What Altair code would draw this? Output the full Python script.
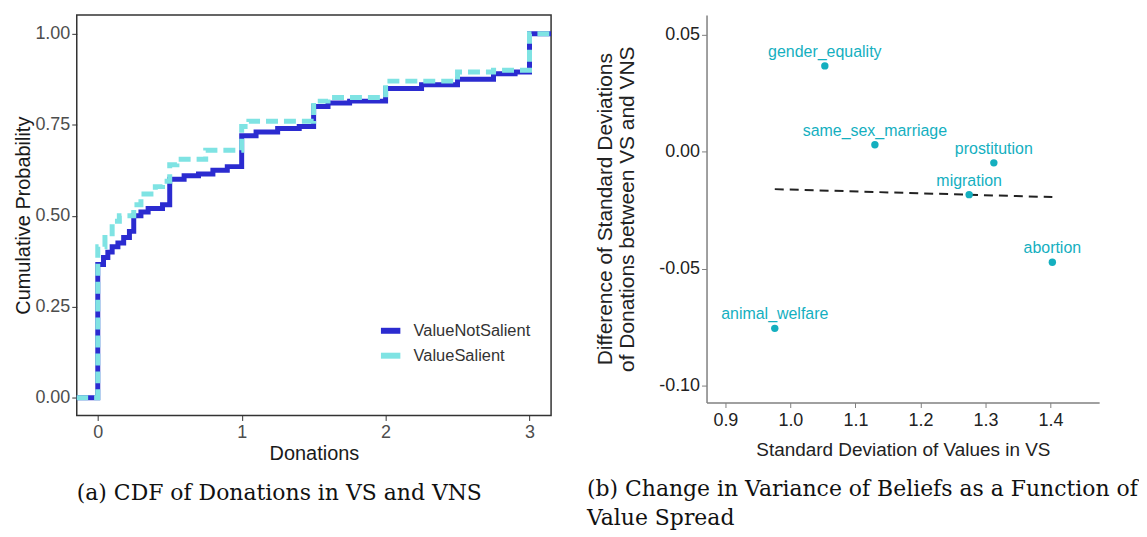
import altair as alt
import pandas as pd

# ---------- Panel (a): ECDF of donations ----------
group_names = ["ValueNotSalient", "ValueSalient"]
vns_donation = [-0.15, 0, 0.04, 0.07, 0.10, 0.14, 0.18, 0.22, 0.25, 0.30, 0.35, 0.45, 0.5, 0.6, 0.7,
                0.8, 0.9, 1.0, 1.1, 1.25, 1.4, 1.5, 1.6, 1.75, 2.0, 2.25, 2.5, 2.75, 2.9, 3.0, 3.15]
vns_cdf = [0, 0.366, 0.385, 0.40, 0.415, 0.425, 0.44, 0.457, 0.50, 0.51, 0.52, 0.53, 0.60, 0.61, 0.615,
           0.625, 0.635, 0.72, 0.73, 0.74, 0.745, 0.80, 0.81, 0.815, 0.85, 0.86, 0.875, 0.89, 0.895, 1.0, 1.0]
vs_donation = [-0.15, 0, 0.05, 0.10, 0.15, 0.25, 0.30, 0.40, 0.45, 0.5, 0.55, 0.75, 1.0, 1.05, 1.5, 1.6,
               2.0, 2.5, 2.75, 3.0, 3.15]
vs_cdf = [0, 0.415, 0.44, 0.485, 0.50, 0.53, 0.56, 0.58, 0.595, 0.64, 0.655, 0.68, 0.745, 0.76, 0.815, 0.825,
          0.87, 0.895, 0.90, 1.0, 1.0]
x_ticks_a = [0, 1, 2, 3]
y_ticks_a = [0, 0.25, 0.5, 0.75, 1.0]

# ---------- Panel (b): scatter ----------
topics = ["gender_equality", "same_sex_marriage", "prostitution", "migration", "abortion", "animal_welfare"]
sd_values = [1.053, 1.130, 1.313, 1.275, 1.403, 0.976]
sd_diff = [0.0366, 0.0029, -0.0048, -0.0184, -0.0473, -0.0755]
x_ticks_b = [0.9, 1.0, 1.1, 1.2, 1.3, 1.4]
y_ticks_b = [-0.10, -0.05, 0.0, 0.05]

ecdf = pd.DataFrame({
    "donation": vns_donation + vs_donation,
    "cdf": vns_cdf + vs_cdf,
    "group": [group_names[0]] * len(vns_donation) + [group_names[1]] * len(vs_donation),
})
scatter = pd.DataFrame({"topic": topics, "sd": sd_values, "diff": sd_diff})

FONT = "Liberation Sans"
TEAL = "#14AFBF"

x_a = alt.X("donation:Q", title="Donations",
            scale=alt.Scale(domain=[-0.146, 3.15], nice=False, zero=False),
            axis=alt.Axis(values=x_ticks_a, format="d", grid=False, domain=False, tickSize=5,
                          tickColor="#333333", labelColor="#4D4D4D", labelFontSize=18,
                          labelPadding=3, titleFontSize=20, titleColor="#1a1a1a",
                          titleFontWeight="normal", titlePadding=2, labelFont=FONT, titleFont=FONT))
y_a = alt.Y("cdf:Q", title="Cumulative Probability",
            scale=alt.Scale(domain=[-0.049, 1.052], nice=False, zero=False),
            axis=alt.Axis(values=y_ticks_a, format=".2f", grid=False, domain=False, tickSize=5,
                          tickColor="#333333", labelColor="#4D4D4D", labelFontSize=18,
                          labelPadding=2, titleFontSize=20, titleColor="#1a1a1a",
                          titleFontWeight="normal", titlePadding=1, labelFont=FONT, titleFont=FONT))
color_a = alt.Color("group:N", title=None,
                    scale=alt.Scale(domain=group_names, range=["#2B2BD0", "#7FE3E3"]),
                    legend=alt.Legend(orient="none", legendX=302, legendY=304, symbolType="stroke",
                                      symbolStrokeWidth=6, symbolSize=380, labelFontSize=16.5,
                                      labelFont=FONT, labelColor="#333333", labelOffset=10,
                                      rowPadding=-4))

base_a = alt.Chart(ecdf).encode(x=x_a, y=y_a, color=color_a)
line_vns = base_a.transform_filter(alt.datum.group == group_names[0]).mark_line(
    interpolate="step-after", strokeWidth=5, clip=True)
line_vs = base_a.transform_filter(alt.datum.group == group_names[1]).mark_line(
    interpolate="step-after", strokeWidth=5, clip=True, strokeDash=[12, 6])

left = alt.layer(line_vns, line_vs).properties(
    width=476, height=402,
    view=alt.ViewBackground(stroke="#333333", strokeWidth=1.5),
    title=alt.TitleParams("(a) CDF of Donations in VS and VNS", orient="bottom", anchor="start",
                          frame="group", dx=0, offset=20, font="DejaVu Serif", fontSize=22,
                          fontWeight="normal", color="#111111"),
)

MINUS_FIX = "replace(format(datum.value, '.2f'), '\u2212', '-')"

points = alt.Chart(scatter).mark_circle(size=55, opacity=1, color=TEAL).encode(
    x=alt.X("sd:Q", title="Standard Deviation of Values in VS",
            scale=alt.Scale(domain=[0.871, 1.475], nice=False, zero=False),
            axis=alt.Axis(values=x_ticks_b, format=".1f", grid=False, domainColor="#808080",
                          domainWidth=1.5, tickColor="#808080", tickSize=5, labelColor="#222222",
                          labelFontSize=18, labelPadding=4, titleFontSize=19, titleColor="#222222",
                          titleFontWeight="normal", titlePadding=11, labelFont=FONT, titleFont=FONT)),
    y=alt.Y("diff:Q", title=["Difference of Standard Deviations", "of Donations between VS and VNS"],
            scale=alt.Scale(domain=[-0.1072, 0.0584], nice=False, zero=False),
            axis=alt.Axis(values=y_ticks_b, labelExpr=MINUS_FIX, grid=False, domainColor="#808080",
                          domainWidth=1.5, tickColor="#808080", tickSize=5, labelColor="#222222",
                          labelFontSize=18, labelPadding=2, titleFontSize=21, titleColor="#222222",
                          titleFontWeight="normal", titlePadding=21, titleLineHeight=22,
                          labelFont=FONT, titleFont=FONT)),
)
labels = alt.Chart(scatter).mark_text(dy=-14, fontSize=16, font=FONT, color=TEAL, baseline="middle").encode(
    x="sd:Q", y="diff:Q", text="topic:N"
)
trend = alt.Chart(scatter).transform_regression("sd", "diff").mark_line(
    color="#222222", strokeWidth=2, strokeDash=[9, 6]
).encode(x="sd:Q", y="diff:Q")

right = alt.layer(trend, points, labels).properties(
    width=394, height=389,
    view=alt.ViewBackground(stroke="transparent"),
    title=alt.TitleParams(["(b) Change in Variance of Beliefs as a Function of", "Value Spread"],
                          orient="bottom", anchor="start", frame="group", dx=-120, offset=20,
                          font="DejaVu Serif", fontSize=22, fontWeight="normal", color="#111111",
                          lineHeight=29),
)

chart = alt.hconcat(left, right, spacing=34).properties(
    padding={"left": 5, "top": 5, "right": 0, "bottom": 0}
).configure(background="white")

chart.save("out.html", embed_options={"renderer": "svg", "actions": False})
